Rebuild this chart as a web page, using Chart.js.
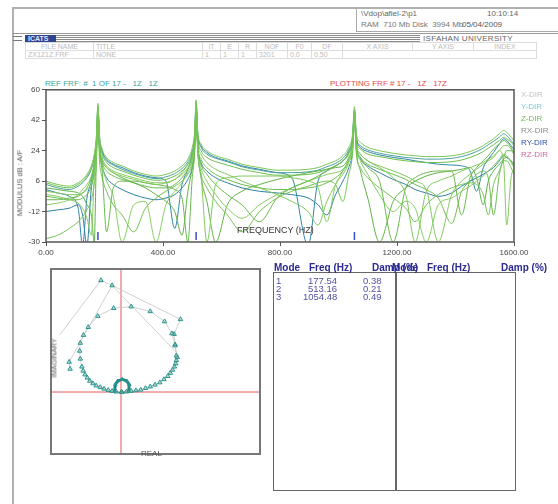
<!DOCTYPE html>
<html>
<head>
<meta charset="utf-8">
<script src="https://cdn.jsdelivr.net/npm/chart.js@4.4.0/dist/chart.umd.min.js"></script>
<style>
  body { margin: 0; width: 558px; height: 504px; background: #fff; position: relative; overflow: hidden;
         font-family: 'Liberation Sans Narrow', 'Liberation Sans', Arial, sans-serif; }
  .t { position: absolute; white-space: pre; line-height: 1; }
  canvas { position: absolute; }
  .box { position: absolute; box-sizing: border-box; }
  #info { position: absolute; left: 25px; top: 42px; border-collapse: collapse; font-size: 7px; color: #bbb; }
  #info td { border: 1px solid #ddd; height: 7px; padding: 0 2px; white-space: nowrap; overflow: hidden; }
  #info tr:first-child td { text-align: center; }
</style>
</head>
<body>

<!-- header frame -->
<div class="box" style="left:12px;top:7px;width:546px;height:497px;border-top:2px solid #b0b0b0;border-left:2px solid #b0b0b0;"></div>
<div class="box" style="left:356px;top:7px;width:202px;height:25px;border-left:1px solid #aaa;border-bottom:1px solid #aaa;"></div>
<div class="t" style="left:361px;top:10px;font-size:8px;color:#666;">\Vdop\afiel-2\p1</div>
<div class="t" style="left:487px;top:10px;font-size:8px;color:#666;">10:10:14</div>
<div class="t" style="left:361px;top:21px;font-size:8px;color:#777;">RAM  710 Mb Disk  3994 Mb</div>
<div class="t" style="left:462px;top:21px;font-size:8px;color:#555;">05/04/2009</div>

<!-- ICATS bar -->
<div class="box" style="left:12px;top:33px;width:546px;height:1px;background:#999;"></div>
<div class="box" style="left:13px;top:36px;width:9px;height:5px;border-top:1px solid #777;border-bottom:1px solid #777;"></div>
<div class="box" style="left:25px;top:35px;width:31px;height:8px;background:#2f4590;"></div>
<div class="t" style="left:28px;top:35px;font-size:7px;font-weight:bold;color:#dfe6ff;">ICATS</div>
<div class="box" style="left:56px;top:35px;width:364px;height:8px;background:repeating-linear-gradient(#8a8a8a 0 1px,#fff 1px 2px);"></div>
<div class="t" style="left:423px;top:35px;font-size:8px;color:#666;letter-spacing:0.3px;">ISFAHAN UNIVERSITY</div>

<table id="info">
  <tr><td style="width:63px">FILE NAME</td><td style="width:104px;text-align:left">TITLE</td><td style="width:13px">IT</td><td style="width:13px">E</td><td style="width:13px">R</td><td style="width:26px">NOF</td><td style="width:19px">F0</td><td style="width:26px">DF</td><td style="width:65px">X AXIS</td><td style="width:56px">Y AXIS</td><td style="width:58px">INDEX</td></tr>
  <tr><td>ZX1Z1Z.FRF</td><td style="text-align:left">NONE</td><td>1</td><td>1</td><td>1</td><td>3201</td><td>0.0</td><td>0.50</td><td colspan="3"></td></tr>
</table>

<div class="t" style="left:45px;top:80px;font-size:8px;color:#3aa6a0;">REF FRF: #  1 OF 17 -   1Z   1Z</div>
<div class="t" style="left:330px;top:80px;font-size:8px;color:#e24a4a;">PLOTTING FRF # 17 -   1Z   17Z</div>

<canvas id="frf" width="530" height="177" style="left:10px;top:83px;"></canvas>
<div class="t" style="left:20px;top:183px;font-size:7.5px;color:#555;transform:translate(-50%,-50%) rotate(-90deg);">MODULUS dB : A/F</div>
<div class="t" style="left:237px;top:226px;font-size:9px;color:#333;">FREQUENCY (HZ)</div>

<div class="t" style="left:521px;top:91px;font-size:8px;color:#c4c4c4;">X-DIR</div>
<div class="t" style="left:521px;top:103px;font-size:8px;color:#7cc4dc;">Y-DIR</div>
<div class="t" style="left:521px;top:115px;font-size:8px;color:#6cbc4e;">Z-DIR</div>
<div class="t" style="left:521px;top:127px;font-size:8px;color:#8c8c8c;">RX-DIR</div>
<div class="t" style="left:521px;top:139px;font-size:8px;color:#3050a8;">RY-DIR</div>
<div class="t" style="left:521px;top:151px;font-size:8px;color:#d06aa0;">RZ-DIR</div>

<canvas id="nyq" width="219" height="195" style="left:46px;top:264px;"></canvas>
<div class="t" style="left:54px;top:358px;font-size:7px;color:#555;transform:translate(-50%,-50%) rotate(-90deg);">IMAGINARY</div>
<div class="t" style="left:141px;top:450px;font-size:8px;color:#555;">REAL</div>

<!-- mode table -->
<div class="box" style="left:273px;top:272px;width:243px;height:219px;border:1.5px solid #666;"></div>
<div class="box" style="left:395px;top:272px;width:1.5px;height:219px;background:#666;"></div>
<div id="modes"></div>

<script>
// frequency grid (Hz) shared by all FRF curves
const freqHz = [0, 40, 80, 110, 125, 140, 155, 165, 172, 177.54, 183, 192, 207, 230, 260, 300, 340, 376, 410, 440,
  465, 485, 500, 508, 513.16, 519, 530, 550, 580, 620, 670, 730, 790, 840, 896, 930, 960, 990, 1015, 1035,
  1048, 1054.48, 1061, 1075, 1100, 1140, 1187, 1230, 1262, 1300, 1341, 1387, 1421, 1450, 1472, 1495, 1512, 1530, 1550, 1565,
  1575, 1590, 1600];

// modulus (dB) of each FRF
const frf01 = [6, 4, 3, 5, 7, 10, 15, 22, 32, 52, 33, 25, 20, 17, 15, 12, 10, 9, 10, 12, 15, 19, 26, 35, 54, 35, 28, 24, 21, 19,
  16, 14, 12.5, 12.5, 13, 14, 16, 18, 21, 26, 34, 50, 34, 29, 26, 24, 22.5, 21.5, 21, 20.5, 20.5, 21, 22, 23.5, 25, 27, 29, 31, 34, 36, 35, 32, 30];
const frf02 = [4, 2, 1, 3, 5, 8, 13, 20, 30, 50, 31, 23, 18, 15.5, 13, 10.5, 8.5, 7.5, 8.5, 10.5, 13.5, 17.5, 24, 33, 52, 33, 26, 22, 19.5, 17.5,
  14.5, 12.5, 11, 11, 11.5, 12.5, 14.5, 16.5, 19.5, 24.5, 32, 48, 32, 27, 24.5, 22.5, 21, 20, 19.5, 19, 19, 19.5, 20.5, 22, 23.5, 25.5, 27.5, 29.5, 32, 34, 33, 30, 28];
const frf03 = [5, 3, 2, 4, 6, 9, 14, 21, 30, 49, 30, 22, 17, 14, 12, 9.5, 7.5, 6.5, 7, 9, 12, 16, 22, 31, 50, 31, 24, 20, 17.5, 15.5,
  13, 11, 9.5, 9.5, 10, 11, 13, 15, 18, 22, 30, 47, 30, 25, 22, 20.5, 19, 18, 17.5, 17, 17, 17.5, 18.5, 20, 21.5, 23.5, 25.5, 27.5, 30, 32, 31, 29, 27];
const frf04 = [1, -1, -3, -10, -32, -4, 6, 16, 28, 50, 32, 24, 19, 16, 14, 11, 9, 8, 6, -22, 4, 13, 22, 32, 53, 34, 27, 23, 20, 18,
  15, 13, 11, 8, -32, 6, 12, 15, 18, 23, 31, 48, 32, 26, 23.5, 21.5, 20, 19, 18, 17, 16, 15.5, 15, 12, 0, 14, 19, 23, 28, 31, 30, 27, 25];
const frf05 = [-2, -3, -5, -7, -10, -16, -26, 8, 22, 46, 27, 19, 14, 11, 9, 7, 5, 4, 5, 7, 10, 14, 20, 29, 48, 24, 10, -30, 4, 8,
  9, 9, 9, 8, 6, 2, -18, 4, 10, 17, 26, 44, 28, 22, 18, 14, 8, -2, -30, 0, 6, 9, 12, 14, 15.5, 17, 19, 21, 24, 27, 27, 25, 22];
const frf06 = [-5, -5, -4, -3, -1, 2, 8, 16, 26, 46, 24, 12, -24, 2, 6, 6, 5, 4, 3, 1, -4, -30, 8, 22, 46, 26, 16, 10, 4, -2,
  -8, -18, -4, 2, 6, 9, 12, 15, 18, 23, 31, 46, 28, 20, 14, 6, -30, 2, 8, 11, 12, 12, -14, 8, 14, 18, 21, 25, 28, 30, 29, 26, 23];
const frf07 = [-8, -7, -5, -2, 1, 4, 9, 17, 28, 47, 26, 15, 6, -3, -30, -8, -6, -30, -8, 0, 5, 11, 18, 27, 46, 25, 14, 6, -2, -10,
  -16, -8, -2, 2, 6, 8, 10, 11, 13, 19, 28, 44, 26, 18, 10, -2, -12, -6, -10, -30, -8, -4, 0, 3, 6, 9, 12, 15, 19, 22, 21, 17, 14];
const frf08 = [-12, -11, -10, -8, -14, -32, 2, 12, 24, 44, 25, 15, 8, 4, 1, -2, -4, -5, -4, -2, 2, 7, 14, 24, 44, 26, 17, 12, 8, 5,
  2, 0, -1, -2, -4, -8, -14, -2, 6, 14, 24, 42, 26, 19, 15, 11, 7, 4, 1, -1, -3, -1, 3, 6, 8, 10, 12, 14, 18, 21, 20, 18, 16];
const frf09 = [-28, -26, -22, -18, -15, -11, -5, 4, 16, 38, 18, 8, 0, -8, -14, -24, -10, -4, 0, 3, 6, 10, 16, 25, 44, 22, 10, 2, -6, -14,
  -24, -12, -4, 0, 3, 5, 6, 4, -6, 10, 22, 40, 22, 14, 8, 2, -4, -10, -18, -8, -2, 2, 4, 5, 4, -2, -14, 4, 12, 18, 18, 14, 10];
const frf10 = [2, 1, 0, -1, -3, -8, -14, -30, 18, 44, 26, 18, 14, 11, 8, 5, 2, -2, -6, -12, -26, 0, 14, 26, 46, 24, 8, -6, -30, -8,
  0, 4, 7, 9, 11, 12, 13, 14, 15, 20, 28, 44, 24, 12, -4, -30, -6, 2, 6, 9, 11, 12, 13, 14, 8, -8, 6, 12, 16, 19, 20, 18, 15];
const frf11 = [0, -1, -2, -2, -1, 1, 5, 13, 26, 48, 28, 20, 15, 12, 10, 8, 6, 5, 5, 7, 11, 16, 22, 30, 50, 29, 22, 17, 13, 10,
  6, 2, -2, -6, -12, -20, -6, 4, 12, 19, 28, 46, 28, 22, 18, 15, 12, 9, 6, 1, -30, -2, 6, 10, 13, 16, 18, 20, 24, 16, -20, 8, 14];
const frf12 = [-3, -4, -5, -5, -4, -2, 3, 11, 24, 46, 26, 17, 12, 9, 7, 5, 3, 2, 2, 4, 8, 13, 19, 28, 48, 27, 19, 14, 10, 7,
  4, 2, 1, 1, 2, 3, 5, 8, 12, 18, 27, 45, 27, 20, 16, 13, 10, 7, 4, 1, -4, -19, 0, 6, 10, 12, 8, -14, 10, 20, 24, 24, 22];

// identified modes
const modeNo = [1, 2, 3];
const modeFreq = [177.54, 513.16, 1054.48];
const modeDamp = [0.38, 0.21, 0.49];

// Nyquist (circle fit) points: real / imaginary
const nyqRe = [0.02, -0.15, -0.28, -0.40, -0.53, -0.65, -0.78, -0.88, -0.98, -1.06, -1.13, -1.19, -1.23, -1.28, -1.30, -1.28, -1.18, -1.03,
  -0.73, -0.23, 0.32, 0.92, 1.37, 1.60, 1.70, 1.74, 1.74, 1.72, 1.68, 1.62, 1.55, 1.47, 1.35, 1.22, 1.07, 0.92, 0.77, 0.62, 0.47, 0.32, 0.17, 0.02];
const nyqIm = [0.00, 0.01, 0.03, 0.06, 0.10, 0.15, 0.20, 0.27, 0.35, 0.45, 0.55, 0.67, 0.80, 1.05, 1.30, 1.55, 1.80, 2.05,
  2.40, 2.65, 2.70, 2.55, 2.23, 1.85, 1.50, 1.15, 1.00, 0.90, 0.80, 0.70, 0.60, 0.50, 0.40, 0.30, 0.23, 0.17, 0.12, 0.07, 0.05, 0.03, 0.01, 0.00];
const trailRe = [-1.93, -0.63, -0.28, 1.87, 1.67, 1.70, 1.77];
const trailIm = [1.80, 3.53, 3.37, 2.30, 1.83, 1.47, 1.10];
const trail2Re = [-1.60, -1.63, -0.28, 1.67];
const trail2Im = [0.73, 0.95, 3.37, 1.33];
const loopRe = [-0.20, -0.18, -0.10, 0.04, 0.18, 0.26, 0.24];
const loopIm = [0.03, 0.23, 0.35, 0.40, 0.35, 0.23, 0.03];

// ---- main FRF plot ----
const curves = [frf01, frf02, frf03, frf04, frf05, frf06, frf07, frf08, frf09, frf10, frf11, frf12];
const curveColors = ['#7cc758', '#4f9fa0', '#6fbf4d', '#3186a8', '#80ca5c', '#6ab94e', '#86cd62', '#2f7fa0', '#74c255', '#5fb346', '#82c95f', '#6cbc50'];
const tealCurve = [false, true, false, true, false, false, false, true, false, false, false, false];

const frame = {
  id: 'frame',
  afterDatasetsDraw(chart, args, opts) {
    const { ctx, chartArea: a } = chart;
    ctx.save();
    ctx.strokeStyle = opts.color;
    ctx.lineWidth = opts.width;
    ctx.strokeRect(a.left, a.top, a.right - a.left, a.bottom - a.top);
    ctx.restore();
  }
};

const datasets = curves.map((vals, i) => ({
  data: freqHz.map((f, j) => ({ x: f, y: vals[j] })),
  borderColor: curveColors[i],
  borderWidth: 1,
  pointRadius: 0,
  cubicInterpolationMode: 'monotone',
  order: tealCurve[i] ? 2 : 1
}));

datasets.push({
  data: modeFreq.map(f => ({ x: f, y: -26.5 })),
  showLine: false,
  pointStyle: 'line',
  rotation: 90,
  pointRadius: 4,
  borderColor: '#3a50c0',
  borderWidth: 1.5,
  order: 0
});

new Chart(document.getElementById('frf').getContext('2d'), {
  type: 'line',
  data: { datasets },
  plugins: [frame],
  options: {
    responsive: false,
    animation: false,
    devicePixelRatio: 1,
    layout: { padding: { top: 6, right: 26, left: 0, bottom: 0 } },
    plugins: { legend: { display: false }, tooltip: { enabled: false }, frame: { color: '#555', width: 1.5 } },
    scales: {
      x: {
        type: 'linear', min: 0, max: 1600,
        ticks: { stepSize: 400, maxRotation: 0, padding: 2, color: '#444', font: { size: 8, family: "'Liberation Sans Narrow','Liberation Sans',Arial" },
                 callback: v => v.toFixed(2) },
        grid: { drawOnChartArea: false, tickLength: 4, color: '#555' },
        border: { display: false },
        afterFit: s => { s.height = 18; }
      },
      y: {
        min: -30, max: 60,
        ticks: { stepSize: 18, padding: 2, color: '#444', font: { size: 8, family: "'Liberation Sans Narrow','Liberation Sans',Arial" } },
        grid: { drawOnChartArea: false, tickLength: 4, color: '#555' },
        border: { display: false },
        afterFit: s => { s.width = 36; }
      }
    }
  }
});

// ---- Nyquist plot ----
const crossHair = {
  id: 'crossHair',
  beforeDatasetsDraw(chart) {
    const { ctx, chartArea: a, scales } = chart;
    const x0 = scales.x.getPixelForValue(0);
    const y0 = scales.y.getPixelForValue(0);
    ctx.save();
    ctx.strokeStyle = '#e25a5a';
    ctx.lineWidth = 1;
    ctx.beginPath();
    ctx.moveTo(x0, a.top); ctx.lineTo(x0, a.bottom);
    ctx.moveTo(a.left, y0); ctx.lineTo(a.right, y0);
    ctx.stroke();
    ctx.restore();
  }
};

const pts = (re, im) => re.map((r, i) => ({ x: r, y: im[i] }));
const tri = {
  showLine: true,
  borderColor: '#c4c4c4',
  borderWidth: 0.8,
  pointStyle: 'triangle',
  pointRadius: 2.6,
  pointBorderColor: '#2a968e',
  pointBackgroundColor: 'rgba(42,150,142,0.25)',
  pointBorderWidth: 1
};

new Chart(document.getElementById('nyq').getContext('2d'), {
  type: 'scatter',
  data: {
    datasets: [
      Object.assign({}, tri, { data: pts(loopRe, loopIm), borderColor: '#1f8a82', borderWidth: 3, pointRadius: 2 }),
      Object.assign({}, tri, { data: pts(nyqRe, nyqIm) }),
      Object.assign({}, tri, { data: pts(trailRe, trailIm), pointRadius: trailRe.map((v, i) => i === 0 ? 0 : 2.6) }),
      Object.assign({}, tri, { data: pts(trail2Re, trail2Im), pointRadius: trail2Re.map((v, i) => i < 2 ? 2.6 : 0) })
    ]
  },
  plugins: [crossHair, frame],
  options: {
    responsive: false,
    animation: false,
    devicePixelRatio: 1,
    layout: { padding: 0 },
    plugins: { legend: { display: false }, tooltip: { enabled: false }, frame: { color: '#777', width: 2 } },
    scales: {
      x: { display: false, min: -2.2, max: 4.37 },
      y: { display: false, min: -1.96, max: 3.89 }
    }
  }
});

// ---- mode table text ----
const modes = document.getElementById('modes');
function addText(txt, left, top, style) {
  const d = document.createElement('div');
  d.className = 't';
  d.textContent = txt;
  d.style.left = left + 'px';
  d.style.top = top + 'px';
  Object.assign(d.style, style);
  modes.appendChild(d);
  return d;
}
const head = { fontSize: '10px', fontWeight: 'bold', color: '#2a2a90', fontFamily: "'Liberation Sans','Arial',sans-serif" };
addText('Mode', 274, 263, head);
addText('Freq (Hz)', 309, 263, head);
addText('Damp (%)', 372, 263, head);
addText('Mode', 392, 263, head);
addText('Freq (Hz)', 427, 263, head);
addText('Damp (%)', 501, 263, head);

modeNo.forEach((m, i) => {
  const top = 276 + i * 8;
  const row = { fontSize: '9.5px', color: '#5252aa' };
  addText(String(m), 276, top, row);
  const f = addText(modeFreq[i].toFixed(2), 0, top, row);
  f.style.left = (337 - f.offsetWidth) + 'px';
  const d = addText(modeDamp[i].toFixed(2), 0, top, row);
  d.style.left = (382 - d.offsetWidth) + 'px';
});
</script>
</body>
</html>
